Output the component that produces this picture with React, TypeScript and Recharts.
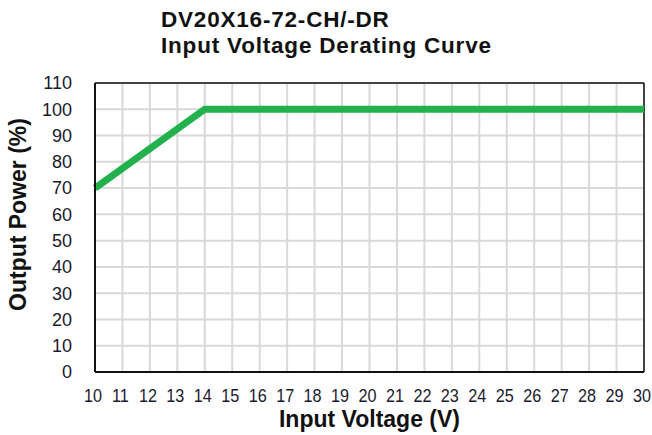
import { LineChart, Line, XAxis, YAxis, CartesianGrid, ReferenceLine } from 'recharts';

const voltage = [10, 14, 30];
const outputPower = [70, 100, 100];
const xTicks = [10, 11, 12, 13, 14, 15, 16, 17, 18, 19, 20, 21, 22, 23, 24, 25, 26, 27, 28, 29, 30];
const yTicks = [0, 10, 20, 30, 40, 50, 60, 70, 80, 90, 100, 110];

const data = voltage.map((v, i) => ({ v, p: outputPower[i] }));

const FONT = '"Liberation Sans", Arial, sans-serif';

// rotated y title, sits a bit above the plot's middle like the original
const YTitle = (props: any) => {
  const vb = props.viewBox;
  const x = vb.x + 18;
  const y = vb.y + vb.height / 2 - 13;
  return (
    <text x={x} y={y} transform={`rotate(-90 ${x} ${y})`} textAnchor="middle" dominantBaseline="central"
      fontFamily={FONT} fontWeight="bold" fontSize={23} fill="#111">
      Output Power (%)
    </text>
  );
};

// slightly narrow digits so "30" stays inside the frame
const XTick = (props: any) => {
  const { x, y, payload } = props;
  return (
    <g transform={`translate(${x - 2},${y}) scale(0.9,1)`}>
      <text x={0} y={0} dy="0.71em" textAnchor="middle" fontFamily={FONT} fontSize={18} fill="#1a1a2e">
        {payload.value}
      </text>
    </g>
  );
};

const titleStyle = {
  position: 'absolute' as const,
  left: 161,
  fontFamily: FONT,
  fontWeight: 'bold',
  fontSize: 22.5,
  letterSpacing: 0.8,
  lineHeight: '26px',
  color: '#111',
  whiteSpace: 'nowrap' as const,
};

export default function App() {
  return (
    <div style={{ position: 'absolute', left: 0, top: 0, width: 652, height: 435, background: '#fff' }}>
      <div style={{ ...titleStyle, top: 7 }}>DV20X16-72-CH/-DR</div>
      <div style={{ ...titleStyle, top: 33 }}>Input Voltage Derating Curve</div>
      <LineChart width={652} height={435} data={data} margin={{ top: 83, right: 8, bottom: 0, left: 0 }}>
        <CartesianGrid stroke="#d9d9d9" strokeWidth={2} />
        <XAxis
          dataKey="v"
          type="number"
          domain={[10, 30]}
          ticks={xTicks}
          interval={0}
          height={63}
          tickSize={0}
          tickMargin={17}
          stroke="#111"
          strokeWidth={2}
          tick={<XTick />}
          label={{ value: 'Input Voltage (V)', position: 'insideBottom', offset: 8, fill: '#111', fontSize: 23, fontWeight: 'bold', fontFamily: FONT }}
        />
        <YAxis
          type="number"
          domain={[0, 110]}
          ticks={yTicks}
          interval={0}
          width={95}
          tickSize={0}
          tickMargin={23}
          stroke="#111"
          strokeWidth={2}
          tick={{ fill: '#1a1a2e', fontSize: 18, fontFamily: FONT }}
          label={{ content: YTitle }}
        />
        <ReferenceLine y={110} stroke="#111" strokeWidth={1.5} />
        <ReferenceLine x={30} stroke="#111" strokeWidth={1.5} />
        <Line dataKey="p" type="linear" stroke="#22b14c" strokeWidth={7} dot={false} isAnimationActive={false} />
      </LineChart>
    </div>
  );
}
